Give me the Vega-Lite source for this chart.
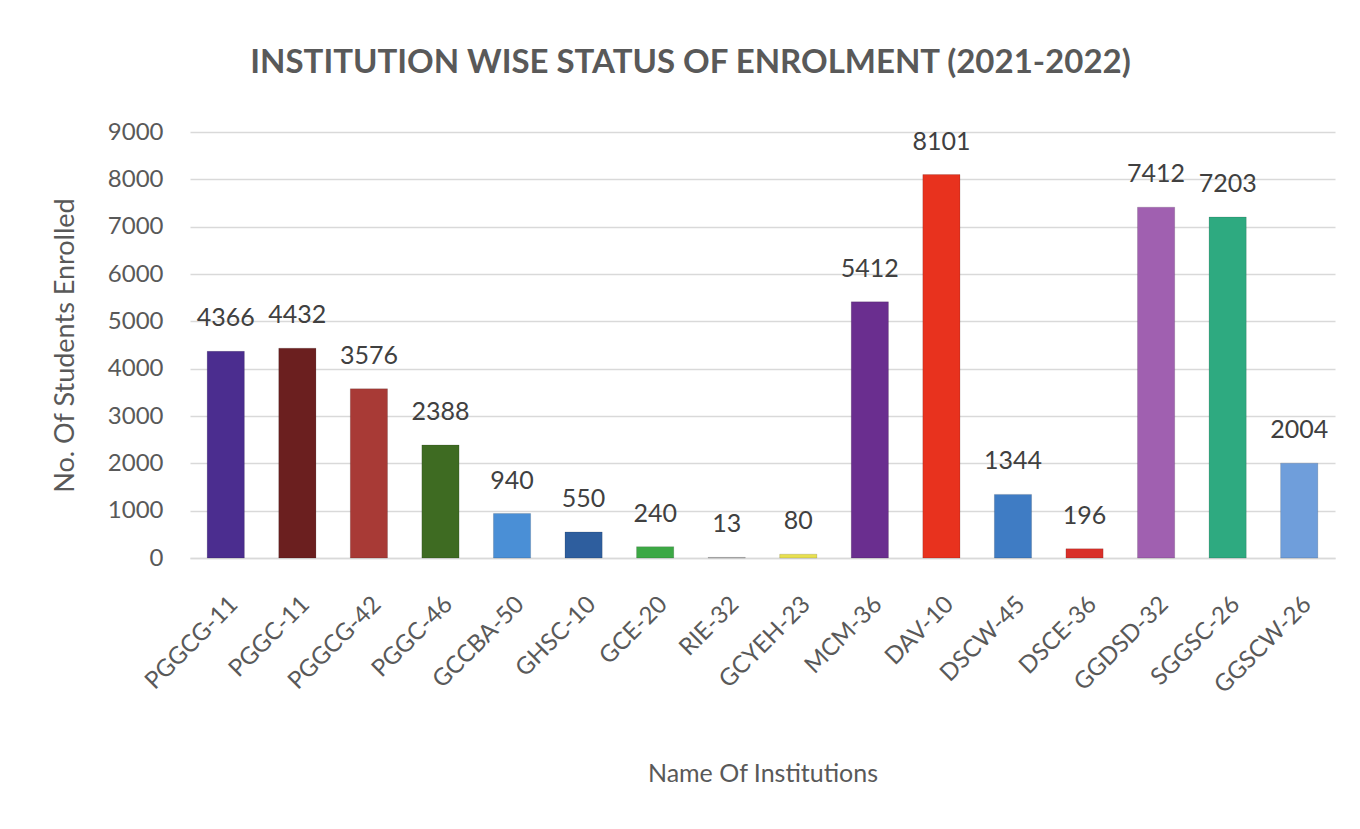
{
  "$schema": "https://vega.github.io/schema/vega-lite/v6.json",
  "width": 1145,
  "height": 426,
  "autosize": "none",
  "padding": {"left": 190, "top": 132, "right": 25, "bottom": 271},
  "background": "white",
  "config": {"view": {"stroke": null}},
  "title": {
    "text": "INSTITUTION WISE STATUS OF ENROLMENT (2021-2022)",
    "font": "Lato",
    "fontSize": 33,
    "fontWeight": "bold",
    "color": "#595959",
    "anchor": "middle",
    "dx": -72,
    "offset": 40
  },
  "data": {
    "values": [
      {"institution": "PGGCG-11", "students": 4366},
      {"institution": "PGGC-11", "students": 4432},
      {"institution": "PGGCG-42", "students": 3576},
      {"institution": "PGGC-46", "students": 2388},
      {"institution": "GCCBA-50", "students": 940},
      {"institution": "GHSC-10", "students": 550},
      {"institution": "GCE-20", "students": 240},
      {"institution": "RIE-32", "students": 13},
      {"institution": "GCYEH-23", "students": 80},
      {"institution": "MCM-36", "students": 5412},
      {"institution": "DAV-10", "students": 8101},
      {"institution": "DSCW-45", "students": 1344},
      {"institution": "DSCE-36", "students": 196},
      {"institution": "GGDSD-32", "students": 7412},
      {"institution": "SGGSC-26", "students": 7203},
      {"institution": "GGSCW-26", "students": 2004}
    ]
  },
  "encoding": {
    "x": {
      "field": "institution",
      "type": "nominal",
      "sort": null,
      "scale": {"paddingInner": 0.48, "paddingOuter": 0.24},
      "axis": {
        "title": "Name Of Institutions",
        "titleFont": "Lato",
        "titleFontSize": 25,
        "titleFontWeight": "normal",
        "titleColor": "#595959",
        "titleY": 215,
        "titleBaseline": "middle",
        "labelAngle": -45,
        "labelFont": "Lato",
        "labelFontSize": 24,
        "labelColor": "#595959",
        "labelPadding": 34,
        "ticks": false,
        "domainColor": "#d9d9d9",
        "domainWidth": 1.5
      }
    },
    "y": {
      "field": "students",
      "type": "quantitative",
      "scale": {"domain": [0, 9000]},
      "axis": {
        "title": "No. Of Students Enrolled",
        "titleFont": "Lato",
        "titleFontSize": 27,
        "titleFontWeight": "normal",
        "titleColor": "#595959",
        "titlePadding": 28,
        "values": [0, 1000, 2000, 3000, 4000, 5000, 6000, 7000, 8000, 9000],
        "format": "d",
        "labelFont": "Lato",
        "labelFontSize": 24,
        "labelColor": "#595959",
        "labelPadding": 27,
        "ticks": false,
        "domain": false,
        "gridColor": "#d9d9d9",
        "gridWidth": 1.5
      }
    }
  },
  "layer": [
    {
      "mark": {"type": "bar", "stroke": "#00000022", "strokeWidth": 1},
      "encoding": {
        "color": {
          "field": "institution",
          "type": "nominal",
          "sort": null,
          "legend": null,
          "scale": {
            "domain": ["PGGCG-11", "PGGC-11", "PGGCG-42", "PGGC-46", "GCCBA-50", "GHSC-10", "GCE-20", "RIE-32", "GCYEH-23", "MCM-36", "DAV-10", "DSCW-45", "DSCE-36", "GGDSD-32", "SGGSC-26", "GGSCW-26"],
            "range": ["#4B2D8F", "#6B1F1F", "#A83A36", "#3E6B22", "#4A8FD6", "#2E5E9E", "#3CA845", "#9a9a9a", "#E8E050", "#6A2E8F", "#E8321E", "#3F7CC4", "#D9302A", "#A060B0", "#2EAA80", "#6F9EDB"]
          }
        }
      }
    },
    {
      "mark": {
        "type": "text",
        "font": "Lato",
        "fontSize": 25,
        "color": "#404040",
        "baseline": "bottom",
        "dy": -20
      },
      "encoding": {
        "text": {"field": "students", "type": "quantitative", "format": "d"}
      }
    }
  ]
}
